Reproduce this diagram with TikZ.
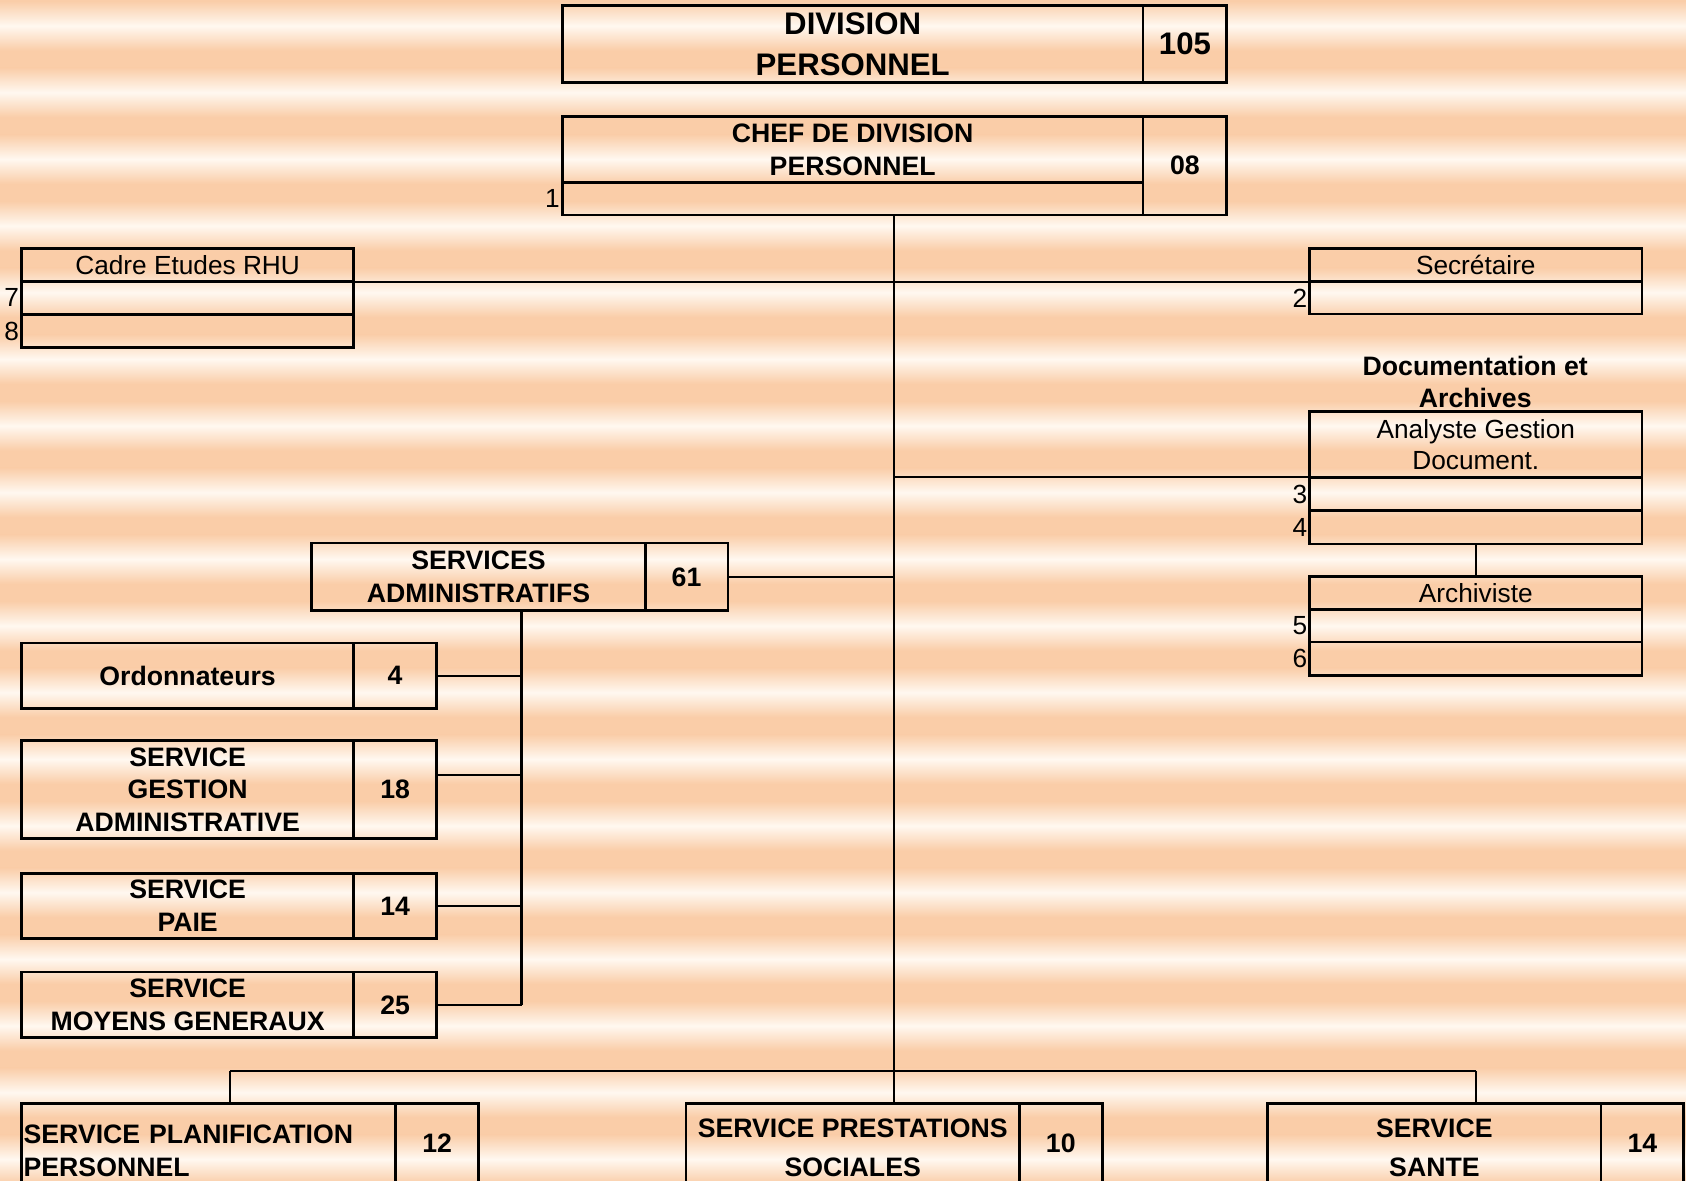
\documentclass[tikz,border=0pt]{standalone}
\usepackage{fontspec}
\setmainfont{Liberation Sans}
\usetikzlibrary{positioning}

\definecolor{bgpeach}{RGB}{250,205,168}
\definecolor{bglight}{RGB}{255,248,240}

\begin{document}
\begin{tikzpicture}[x=0.5pt, y=-0.5pt,
      box/.style={draw, line width=1.3pt, inner sep=0pt, outer sep=0pt, align=center,
        font=\bfseries\fontsize{12.4}{15.25}\selectfont},
      wide/.style={box, minimum width=270pt},
      unit/.style={box, minimum width=154.5pt},
      count/.style={box, minimum width=38.5pt},
      post/.style={unit, font=\fontsize{12.2}{14.5}\selectfont},
      rank/.style={left, inner sep=1pt, font=\fontsize{12.2}{14.5}\selectfont},
      link/.style={line width=0.95pt},
      bus/.style={line width=1.3pt}]
  \useasboundingbox (0,0) rectangle (1568,1098);
  \clip (0,0) rectangle (1568,1098);
  % fond raye
  \fill[bgpeach] (0,0) rectangle (1568,1098);
  \foreach \y in {-38,24,...,1110}
    \shade[top color=bgpeach, bottom color=bgpeach, middle color=bglight] (0,\y-23) rectangle (1568,\y+23);

  % direction
  \node[wide, minimum height=36pt, font=\bfseries\fontsize{14.5}{19}\selectfont] (div) at (793,41) {DIVISION\\PERSONNEL};
  \node[count, minimum width=39pt, minimum height=36pt, font=\bfseries\fontsize{14.5}{19}\selectfont, anchor=west] (divN) at (div.east) {105};

  \node[wide, minimum height=31pt] (chef) at (793,139) {CHEF DE DIVISION\\PERSONNEL};
  \node[wide, minimum height=15pt, anchor=north] (chefA) at (chef.south) {};
  \node[count, minimum width=39pt, minimum height=46pt, anchor=north west] (chefN) at (chef.north east) {08};
  \node[rank] (r1) at (chefA.west) {1};

  % postes rattaches
  \node[post, minimum height=15.5pt] (cadre) at (174.5,246.5) {Cadre Etudes RHU};
  \node[post, minimum height=15pt, anchor=north] (cadreA) at (cadre.south) {};
  \node[post, minimum height=15pt, below=0.5pt of cadreA] (cadreB) {};
  \node[rank] (r7) at (cadreA.west) {7};
  \node[rank] (r8) at (cadreB.west) {8};

  \node[post, minimum height=15.5pt] (sec) at (1372.5,246.5) {Secrétaire};
  \node[post, minimum height=15pt, anchor=north] (secA) at (sec.south) {};
  \node[rank] (r2) at (secA.west) {2};

  \node[font=\bfseries\fontsize{12.4}{15}\selectfont, align=center] (docT) at (1372,355) {Documentation et\\Archives};
  \node[post, minimum height=30.5pt] (ana) at (1372.5,413.5) {Analyste Gestion\\Document.};
  \node[post, minimum height=15.5pt, anchor=north] (anaA) at (ana.south) {};
  \node[post, minimum height=15.5pt, anchor=north] (anaB) at (anaA.south) {};
  \node[rank] (r3) at (anaA.west) {3};
  \node[rank] (r4) at (anaB.west) {4};

  \node[post, minimum height=15.5pt] (arch) at (1372.5,551.5) {Archiviste};
  \node[post, minimum height=15pt, anchor=north] (archA) at (arch.south) {};
  \node[post, minimum height=15.5pt, anchor=north] (archB) at (archA.south) {};
  \node[rank] (r5) at (archA.west) {5};
  \node[rank] (r6) at (archB.west) {6};

  % services administratifs
  \node[unit, minimum width=155pt, minimum height=31.5pt] (adm) at (445,536.5) {SERVICES\\ADMINISTRATIFS};
  \node[count, minimum height=31.5pt, anchor=west] (admN) at (adm.east) {61};

  \node[unit, minimum height=30.5pt] (ord) at (174.5,628.5) {Ordonnateurs};
  \node[count, minimum height=30.5pt, anchor=west] (ordN) at (ord.east) {4};
  \node[unit, minimum height=45.5pt] (sga) at (174.5,734.5) {SERVICE\\GESTION\\ADMINISTRATIVE};
  \node[count, minimum height=45.5pt, anchor=west] (sgaN) at (sga.east) {18};
  \node[unit, minimum height=30.5pt] (paie) at (174.5,842.5) {SERVICE\\PAIE};
  \node[count, minimum height=30.5pt, anchor=west] (paieN) at (paie.east) {14};
  \node[unit, minimum height=30.5pt] (smg) at (174.5,934.5) {SERVICE\\MOYENS GENERAUX};
  \node[count, minimum height=30.5pt, anchor=west] (smgN) at (smg.east) {25};

  % services du bas
  \node[box, minimum height=44.5pt, text width=172pt, align=left, inner xsep=1pt] (spp) at (194,1070.5) {SERVICE PLANIFICATION\\PERSONNEL};
  \node[count, minimum height=37pt, anchor=north west] (sppN) at (spp.north east) {12};
  \node[box, minimum width=155pt, minimum height=41.5pt, font=\bfseries\fontsize{12.4}{18.5}\selectfont] (spsoc) at (793,1067.5) {SERVICE PRESTATIONS\\SOCIALES};
  \node[count, minimum height=37pt, anchor=north west] (spsocN) at (spsoc.north east) {10};
  \node[box, minimum width=155pt, minimum height=41.5pt, font=\bfseries\fontsize{12.4}{18.5}\selectfont] (ssante) at (1334,1067.5) {SERVICE\\SANTE};
  \node[count, minimum height=37pt, anchor=north west] (ssanteN) at (ssante.north east) {14};

  % liaisons
  \coordinate (trunk) at (831,200);
  \coordinate (admbus) at (485,568);
  \coordinate (busL) at (214,996);
  \coordinate (busR) at (1373,996);

  \draw[link] (trunk) -- (trunk |- spsoc.north);
  \draw[link] (cadre.south east) -- (sec.south west);
  \draw[link] (trunk |- ana.south west) -- (ana.south west);
  \draw[link] (anaB.south) -- (arch.north);
  \draw[link] (admN.east) -- (admN.east -| trunk);
  \draw[link] (admbus) -- (admbus |- smgN.east);
  \foreach \n in {ordN,paieN,smgN}
    \draw[link] (\n.east) -- (\n.east -| admbus);
  \draw[link] ([yshift=7pt]sgaN.east) -- ([yshift=7pt]sgaN.east -| admbus);
  \draw[link] (busL |- spp.north) -- (busL);
  \draw[link] (busR) -- (busR |- ssante.north);
  \draw[bus] (busL) -- (busR);
\end{tikzpicture}
\end{document}
